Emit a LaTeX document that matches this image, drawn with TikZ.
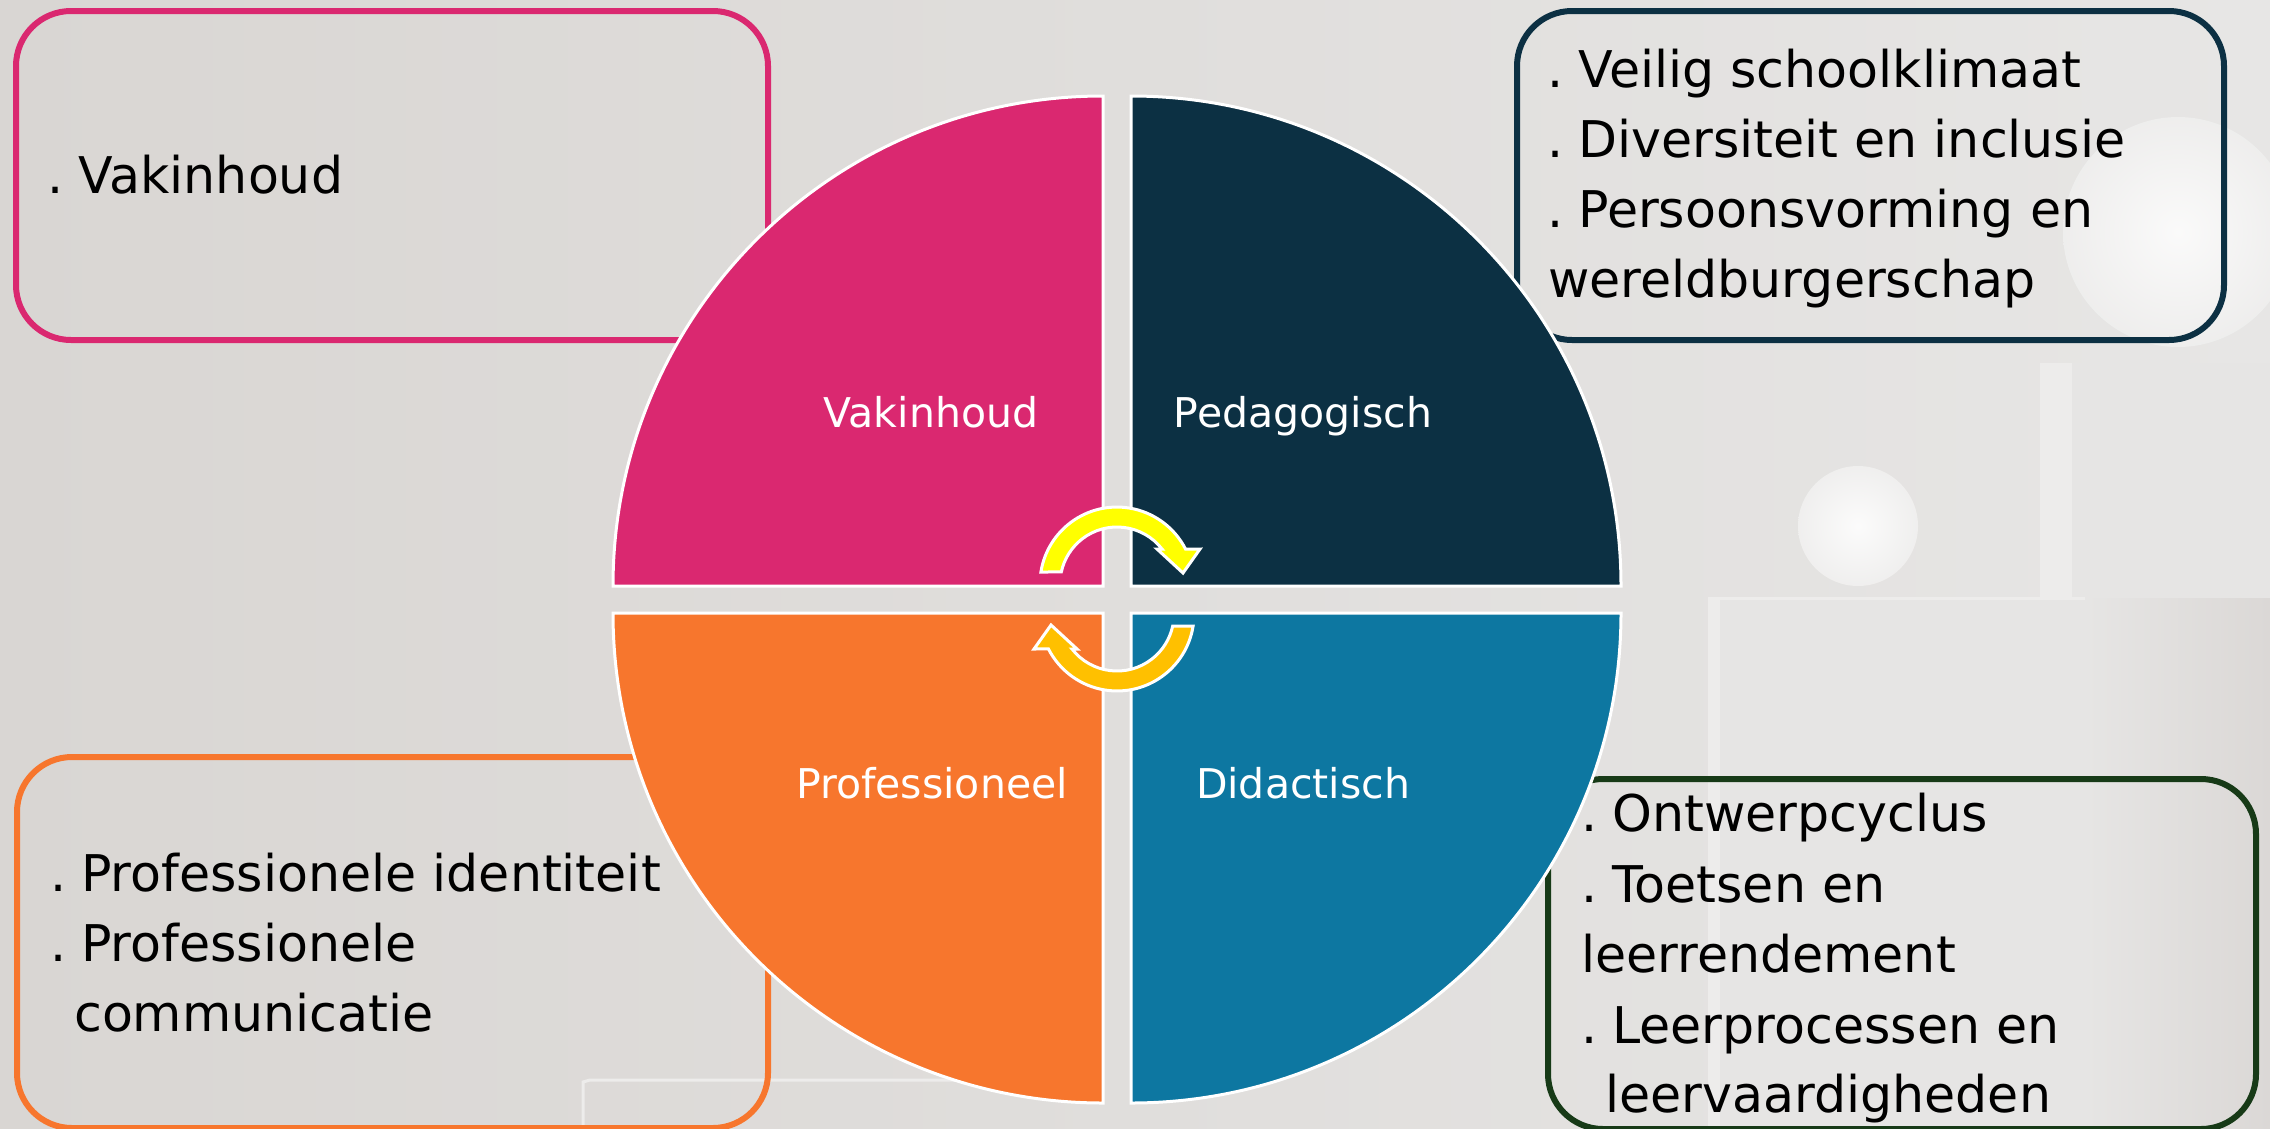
\documentclass[tikz,border=0pt]{standalone}
\usepackage{fontspec}
\setmainfont{DejaVu Sans}
\definecolor{qpink}{HTML}{DA2870}
\definecolor{qnavy}{HTML}{0C3043}
\definecolor{qorange}{HTML}{F7762D}
\definecolor{qblue}{HTML}{0D77A1}
\definecolor{qgreen}{HTML}{173A17}
\definecolor{agold}{HTML}{FFC000}
\definecolor{ayellow}{HTML}{FFFF00}
\definecolor{bgL}{HTML}{D9D6D3}
\definecolor{bgR}{HTML}{E7E6E5}
\definecolor{blockface}{HTML}{E6E5E4}
\definecolor{blockedge}{HTML}{EDECEB}
\definecolor{shadowc}{HTML}{DBD8D6}
\newcommand\bd{.\hspace{15pt}}
\begin{document}
\begin{tikzpicture}[x=1pt,y=1pt,
  infobox/.style={draw, line width=6pt, rounded corners=55pt, fill=none, inner sep=0pt, anchor=north west},
  boxtext/.style={anchor=base west, font=\fontsize{50.6}{60}\selectfont, inner sep=0pt, text=black},
  qlabel/.style={anchor=base, font=\fontsize{41}{50}\selectfont, inner sep=0pt, text=white},
  quad/.style={draw=white, line width=3pt},
  edgeline/.style={draw=blockedge, line width=3pt},
  cyc/.pic={\path[pic actions] (-76.1,12) arc[start angle=171, end angle=27, radius=77]
      -- (83,35) -- (66,11) -- (40,35) -- (45,35)
      arc[start angle=37.9, end angle=167.8, radius=57] -- cycle;}
]
% background
\useasboundingbox (0,0) rectangle (2270,-1128);
\shade[left color=bgL, right color=bgR] (0,0) rectangle (2270,-1128);
\fill[color=blockface] (2040,-363) rectangle (2270,-1128);
\fill[color=blockedge] (2040,-363) rectangle (2072,-598);
\fill[color=blockface] (1708,-598) rectangle (2085,-1128);
\fill[color=blockedge] (1708,-598) rectangle (1720,-1128);
\path[edgeline] (1708,-598) -- (2085,-598);
\shade[left color=blockface, right color=shadowc] (2085,-598) rectangle (2270,-1128);
\shade[inner color=white!85!bgR, outer color=white!35!bgR] (1858,-526) circle[radius=60];
\shade[inner color=white!80!bgR, outer color=white!30!bgR] (2178,-232) circle[radius=115];
\path[edgeline] (583,-1128) -- (583,-1082) -- (590,-1080) -- (976,-1080);

% info boxes
\node[infobox, draw=qpink, minimum width=752pt, minimum height=329pt] (box1) at (13,-8) {};
\node[infobox, draw=qnavy, minimum width=707pt, minimum height=329pt] (box2) at (1514,-8) {};
\node[infobox, draw=qorange, minimum width=751pt, minimum height=371pt] (box3) at (14,-754) {};
\node[infobox, draw=qgreen, minimum width=708pt, minimum height=350pt] (box4) at (1545,-776) {};

% quadrants
\path[quad, fill=qpink] (1103,-586) -- ++(0,490) arc[start angle=90, end angle=180, radius=490] -- cycle;
\path[quad, fill=qnavy] (1131,-586) -- ++(490,0) arc[start angle=0, end angle=90, radius=490] -- cycle;
\path[quad, fill=qorange] (1103,-613) -- ++(-490,0) arc[start angle=180, end angle=270, radius=490] -- cycle;
\path[quad, fill=qblue] (1131,-613) -- ++(0,-490) arc[start angle=270, end angle=360, radius=490] -- cycle;

% quadrant labels
\node[qlabel] (lvak) at (931,-427) {Vakinhoud};
\node[qlabel] (lped) at (1303,-427) {Pedagogisch};
\node[qlabel] (lpro) at (932,-798) {Professioneel};
\node[qlabel] (ldid) at (1303,-798) {Didactisch};

% cycle arrows
\pic[fill=ayellow, draw=white, line width=3pt] at (1117,-584) {cyc};
\pic[fill=agold, draw=white, line width=3pt, rotate=180] at (1117,-614) {cyc};

% box texts
\node[boxtext] (t1a) at (47.5,-193) {\bd Vakinhoud};

\node[boxtext] (t2a) at (1547,-87) {\bd Veilig schoolklimaat};
\node[boxtext] (t2b) at (1547,-157) {\bd Diversiteit en inclusie};
\node[boxtext] (t2c) at (1547,-227) {\bd Persoonsvorming en};
\node[boxtext] (t2d) at (1548,-297) {wereldburgerschap};

\node[boxtext] (t3a) at (50,-891) {\bd Professionele identiteit};
\node[boxtext] (t3b) at (50,-961) {\bd Professionele};
\node[boxtext] (t3c) at (74,-1031) {communicatie};

\node[boxtext] (t4a) at (1581,-831) {\bd Ontwerpcyclus};
\node[boxtext] (t4b) at (1581,-902) {\bd Toetsen en};
\node[boxtext] (t4c) at (1581,-972) {leerrendement};
\node[boxtext] (t4d) at (1581,-1043) {\bd Leerprocessen en};
\node[boxtext] (t4e) at (1605,-1112) {leervaardigheden};
\end{tikzpicture}
\end{document}
